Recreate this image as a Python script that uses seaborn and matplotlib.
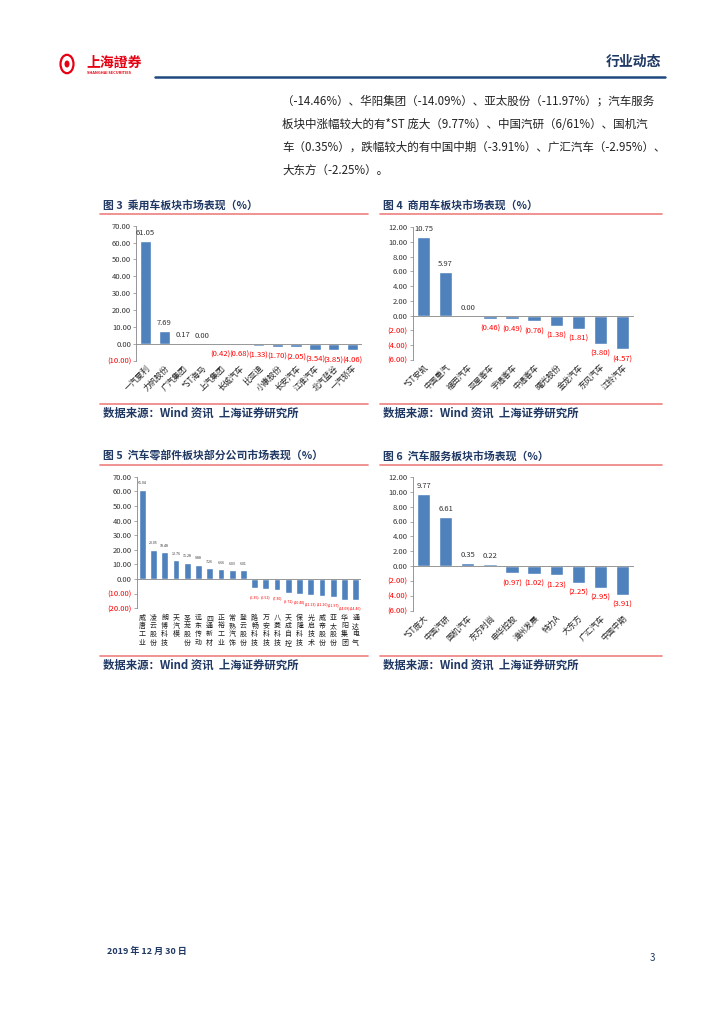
import matplotlib
matplotlib.use('Agg')
import matplotlib.pyplot as plt
import seaborn as sns
import pandas as pd
import numpy as np
from matplotlib.lines import Line2D
from matplotlib.patches import Circle

sns.set_style('white')
plt.rcParams['font.family'] = ['Noto Sans CJK SC', 'DejaVu Sans']
plt.rcParams['axes.unicode_minus'] = False

W, H = 724, 1024
BLUE = '#4F81BD'
NAVY = '#1F3864'
RED = '#FF0000'
PINK = '#EE7F7F'
GREY = '#868686'

# 图3 乘用车
car_names = ['一汽夏利', '力帆股份', '广汽集团', '*ST海马', '上汽集团', '长城汽车',
             '比亚迪', '小康股份', '长安汽车', '江淮汽车', '北汽蓝谷', '一汽轿车']
car_vals = [61.05, 7.69, 0.17, 0.00, -0.42, -0.68, -1.33, -1.70, -2.05, -3.54, -3.85, -4.06]

# 图4 商用车
truck_names = ['*ST安凯', '中国重汽', '福田汽车', '亚星客车', '宇通客车', '中通客车',
               '曙光股份', '金龙汽车', '东风汽车', '江铃汽车']
truck_vals = [10.75, 5.97, 0.00, -0.46, -0.49, -0.76, -1.38, -1.81, -3.80, -4.57]

# 图5 汽车零部件
parts_names = ['威唐工业', '凌云股份', '朗博科技', '天汽模', '圣龙股份', '远东传动',
               '四通新材', '正裕工业', '常熟汽饰', '登云股份', '路畅科技', '万安科技',
               '八菱科技', '天成自控', '保隆科技', '光启技术', '威帝股份', '亚太股份',
               '华阳集团', '通达电气']
parts_vals = [61.04, 20.05, 18.48, 12.76, 11.28, 9.88, 7.26, 6.66, 6.03, 6.01,
              -6.35, -6.52, -7.30, -9.72, -10.40, -11.13, -11.26, -11.97, -14.09, -14.46]

# 图6 汽车服务
service_names = ['*ST庞大', '中国汽研', '国机汽车', '东方时尚', '申华控股', '漳州发展',
                 '特力A', '大东方', '广汇汽车', '中国中期']
service_vals = [9.77, 6.61, 0.35, 0.22, -0.97, -1.02, -1.23, -2.25, -2.95, -3.91]

body_lines = [
    '（-14.46%）、华阳集团（-14.09%）、亚太股份（-11.97%）；汽车服务',
    '板块中涨幅较大的有*ST 庞大（9.77%）、中国汽研（6/61%）、国机汽',
    '车（0.35%），跌幅较大的有中国中期（-3.91%）、广汇汽车（-2.95%）、',
    '大东方（-2.25%）。',
]

fig = plt.figure(figsize=(W / 100, H / 100), dpi=100)


def fx(x):
    return x / W


def fy(y):
    return 1 - y / H


def hline(x0, x1, y, color, lw):
    fig.add_artist(Line2D([fx(x0), fx(x1)], [fy(y), fy(y)], color=color, lw=lw))


def fmt(v):
    v = round(v, 2)
    return f'{v:.2f}' if v >= 0 else f'({abs(v):.2f})'


def bar_chart(box, names, vals, ylim, step, vertical=False, lab_size=5.5, up=8, down=10):
    l, t, r, b = box
    ax = fig.add_axes([fx(l), fy(b), (r - l) / W, (b - t) / H])
    df = pd.DataFrame({'name': names, 'val': vals})
    sns.barplot(data=df, x='name', y='val', color=BLUE, saturation=1, width=0.6, ax=ax)
    ax.set_xlim(-0.5, len(names) - 0.5)
    ax.set_ylim(*ylim)
    ticks = np.arange(ylim[0], ylim[1] + step / 2, step)
    ax.set_yticks(ticks)
    ax.set_yticklabels([fmt(v) for v in ticks], fontsize=5.5)
    for lab, v in zip(ax.get_yticklabels(), ticks):
        lab.set_color(RED if v < 0 else '#333333')
    ax.tick_params(axis='y', length=2, width=0.5, color=GREY, pad=1.5, left=True)
    ax.tick_params(axis='x', length=0, pad=2)
    ax.set_xlabel('')
    ax.set_ylabel('')
    for s in ['top', 'right', 'bottom']:
        ax.spines[s].set_visible(False)
    ax.spines['left'].set_color(GREY)
    ax.spines['left'].set_linewidth(0.6)
    ax.axhline(0, color=GREY, lw=0.6)
    ax.set_xticks(range(len(names)))
    if vertical:
        ax.set_xticklabels(['\n'.join(n) for n in names], fontsize=5,
                           linespacing=1.05, va='top', color='#222222')
        ax.tick_params(axis='x', pad=4)
    else:
        ax.set_xticklabels(names, rotation=45, ha='right', rotation_mode='anchor',
                           fontsize=5.8, color='#222222')
    for i, v in enumerate(vals):
        off = up * 0.72 if v >= 0 else -down * 0.72
        ax.annotate(fmt(v), (i, v), xytext=(0, off), textcoords='offset points',
                    ha='center', va='center', fontsize=lab_size,
                    color='#333333' if v >= 0 else RED)
    return ax


# header
fig.add_artist(Circle((fx(67), fy(64)), 6.5 / W, transform=fig.transFigure,
                      fill=False, ec='#E60012', lw=1.6))
fig.add_artist(Circle((fx(67), fy(64)), 2.5 / W, transform=fig.transFigure,
                      fc='#E60012', ec='none'))
fig.text(fx(86), fy(63), '上海證券', fontsize=10, fontweight='bold', color='#E60012',
         family=['Noto Sans CJK TC', 'DejaVu Sans'], va='center', ha='left')
fig.text(fx(87), fy(73), 'SHANGHAI SECURITIES', fontsize=2.8, fontweight='bold',
         color='#E60012', va='center', ha='left')
fig.text(fx(661), fy(62), '行业动态', fontsize=10, fontweight='bold', color=NAVY,
         va='center', ha='right')
hline(155, 665, 77, '#1F497D', 1.8)

for k, line in enumerate(body_lines):
    fig.text(fx(282), fy(101 + k * 23), line, fontsize=8.3, color='#222222',
             va='center', ha='left')

# titles and rules
titles = [
    (103, 205, '图 3  乘用车板块市场表现（%）'),
    (383, 205, '图 4  商用车板块市场表现（%）'),
    (103, 456, '图 5  汽车零部件板块部分公司市场表现（%）'),
    (383, 456, '图 6  汽车服务板块市场表现（%）'),
]
for x, y, s in titles:
    fig.text(fx(x), fy(y), s, fontsize=7.8, fontweight='bold', color=NAVY,
             va='center', ha='left')
for y in [214, 465, 404, 656]:
    hline(100, 368, y, PINK, 1.2)
    hline(380, 662, y, PINK, 1.2)

src = '数据来源：Wind 资讯  上海证券研究所'
for x, y in [(103, 413), (383, 413), (103, 665), (383, 665)]:
    fig.text(fx(x), fy(y), src, fontsize=8.2, fontweight='bold', fontstyle='italic',
             color=NAVY, va='center', ha='left')

bar_chart((136, 225.7, 362, 360.5), car_names, car_vals, (-10, 70), 10)
bar_chart((412.5, 227.3, 633.6, 359.9), truck_names, truck_vals, (-6, 12), 2)
bar_chart((136.6, 476.7, 361.4, 608.3), parts_names, parts_vals, (-20, 70), 10,
          vertical=True, lab_size=2.6, up=6.5, down=8.5)
bar_chart((412.5, 477, 633.6, 610.5), service_names, service_vals, (-6, 12), 2)

# footer
fig.text(fx(107), fy(951), '2019 年 12 月 30 日', fontsize=6.5, fontweight='bold',
         color=NAVY, va='center', ha='left')
fig.text(fx(655), fy(958), '3', fontsize=7, color=NAVY, va='center', ha='right')

fig.savefig('out.png', dpi=100)
